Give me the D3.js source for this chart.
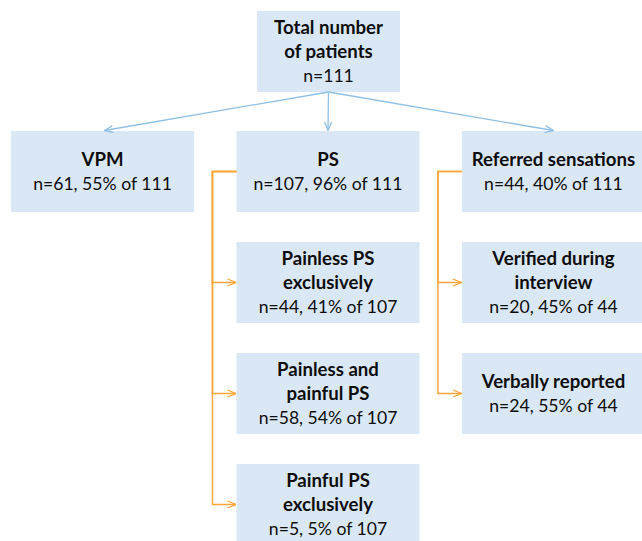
<!DOCTYPE html>
<html>
<head>
<meta charset="utf-8">
<script src="https://cdn.jsdelivr.net/npm/d3@7"></script>
<style>
  body { margin: 0; background: #fff; }
  svg text { font-family: Lato, "Open Sans", sans-serif; fill: #0d0d0d; }
</style>
</head>
<body>
<svg id="chart" width="642" height="541"></svg>
<script>
// node data: title lines, count, percent, of-what
var titles = [
    ["Total number", "of patients"],
    ["VPM"], ["PS"], ["Referred sensations"],
    ["Painless PS", "exclusively"],
    ["Painless and", "painful PS"],
    ["Painful PS", "exclusively"],
    ["Verified during", "interview"],
    ["Verbally reported"]
]
var counts   = [111, 61, 107, 44, 44, 58, 5, 20, 24]
var percents = [null, 55, 96, 40, 41, 54, 5, 45, 55]
var ofTotal  = [null, 111, 111, 111, 107, 107, 107, 44, 44]
var cols     = [1, 0, 1, 2, 1, 1, 1, 2, 2]
var rows     = [0, 1, 1, 1, 2, 3, 4, 2, 3]

// links: parent index -> child index
var blueLinks   = [[0, 1], [0, 2], [0, 3]]
var orangeLinks = [[2, 4], [2, 5], [2, 6], [3, 7], [3, 8]]

var svg = d3.select("#chart")
var boxH = 81

var x = d3.scaleBand()
    .domain([0, 1, 2])
    .range([11, 645])
    .paddingInner(0.188)

var y = d3.scaleLinear()
    .domain([1, 4])
    .range([131, 464])

function boxX(i) {
    // top box is narrower and centred over middle column
    if (i == 0) return 257
    return x(cols[i])
}
function boxW(i) {
    return i == 0 ? 143 : x.bandwidth()
}
function boxY(i) {
    return rows[i] == 0 ? 11 : y(rows[i])
}

var defs = svg.append("defs")
function marker(id, color) {
    defs.append("marker")
        .attr("id", id)
        .attr("viewBox", "0 0 10 10")
        .attr("refX", 9.5)
        .attr("refY", 5)
        .attr("markerWidth", 10)
        .attr("markerHeight", 10)
        .attr("markerUnits", "userSpaceOnUse")
        .attr("orient", "auto")
        .append("path")
        .attr("d", "M1,1.5 L9.5,5 L1,8.5")
        .attr("fill", "none")
        .attr("stroke", color)
        .attr("stroke-width", 1.3)
}
marker("blueHead", "#8fc0e6")
marker("orangeHead", "#f9a63c")

// boxes
var nodes = svg.selectAll(".node")
    .data(d3.range(titles.length))
    .enter().append("g")
    .attr("class", "node")

nodes.append("rect")
    .attr("x", function (d) { return boxX(d) })
    .attr("y", function (d) { return boxY(d) })
    .attr("width", function (d) { return boxW(d) })
    .attr("height", boxH)
    .attr("fill", "#dae8f5")

nodes.each(function (d) {
    var lines = titles[d].map(function (t) { return { t: t, b: true } })
    var sub = "n=" + counts[d]
    if (percents[d] != null) sub += ", " + percents[d] + "% of " + ofTotal[d]
    lines.push({ t: sub, b: false })
    var cx = boxX(d) + boxW(d) / 2
    var cy = boxY(d) + boxH / 2
    var lh = 24
    var top = cy - (lines.length - 1) * lh / 2
    d3.select(this).selectAll("text")
        .data(lines)
        .enter().append("text")
        .attr("x", cx)
        .attr("y", function (l, k) { return top + k * lh })
        .attr("dy", "0.36em")
        .attr("text-anchor", "middle")
        .attr("font-size", function (l) { return l.b ? 18.6 : 17.6 })
        .attr("font-weight", function (l) { return l.b ? "bold" : "normal" })
        .text(function (l) { return l.t })
})

// blue arrows from top box
svg.selectAll(".blue")
    .data(blueLinks)
    .enter().append("line")
    .attr("class", "blue")
    .attr("x1", function (l) { return boxX(l[0]) + boxW(l[0]) / 2 })
    .attr("y1", function (l) { return boxY(l[0]) + boxH })
    .attr("x2", function (l) {
        var c = l[1]
        var mid = boxX(c) + boxW(c) / 2
        return cols[c] == 0 ? mid + 2 : mid
    })
    .attr("y2", function (l) { return boxY(l[1]) - 0.5 })
    .attr("stroke", "#8fc0e6")
    .attr("stroke-width", 1.3)
    .attr("marker-end", "url(#blueHead)")

// orange elbow connectors
var elbow = 24
svg.selectAll(".orange")
    .data(orangeLinks)
    .enter().append("path")
    .attr("class", "orange")
    .attr("d", function (l) {
        var p = l[0], c = l[1]
        var px = boxX(p), py = boxY(p) + boxH / 2
        var cyy = boxY(c) + boxH / 2
        var ex = px - elbow
        return "M" + px + "," + py + "H" + ex + "V" + cyy + "H" + (boxX(c) - 0.5)
    })
    .attr("fill", "none")
    .attr("stroke", "#f9a63c")
    .attr("stroke-width", 1.5)
    .attr("marker-end", "url(#orangeHead)")
</script>
</body>
</html>
